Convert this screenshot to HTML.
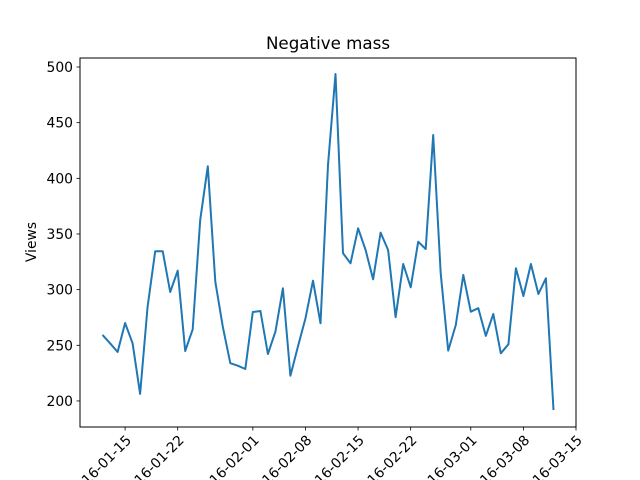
<!DOCTYPE html>
<html><head><meta charset="utf-8"><style>
body{margin:0;background:#fff;}
svg{display:block;font-family:"DejaVu Sans","Liberation Sans",sans-serif;}
</style></head><body>
<svg id="chart" width="640" height="480" xmlns="http://www.w3.org/2000/svg">
<rect width="640" height="480" fill="#fff"/>
<text x="328" y="49" font-size="16.7" text-anchor="middle">Negative mass</text>
<text x="0" y="0" font-size="13.9" text-anchor="middle" transform="translate(36,242) rotate(-90)">Views</text>
<g id="plot"></g>
<rect x="80" y="58" width="496" height="369" fill="none" stroke="#000" stroke-width="1"/>
</svg>
<script>
const startDay = 11; // days after 2016-01-01 (Jan 12)
const views = [259.3,251.8,244,270,251.8,206.3,284.7,334.5,334.5,297.9,317,244.9,264.4,362.6,410.8,307.1,266.7,233.9,231.7,228.7,279.9,280.8,242.2,262.2,301.2,222.7,248.8,274.3,308,269.8,412,493.7,332.7,323.7,355.1,335.6,309.3,351.2,335.6,275.2,323,302.1,343.1,336.5,438.9,314.7,245.2,268.2,313.2,280.2,283.3,258.4,278.1,242.8,250.9,319.2,294.3,323,296.1,310.2,191.9];
const yTicks = [200,250,300,350,400,450,500];
const xTickLabels = ["2016-01-15","2016-01-22","2016-02-01","2016-02-08","2016-02-15","2016-02-22","2016-03-01","2016-03-08","2016-03-15"];
const xTickDays = [14,21,31,38,45,52,60,67,74];

const L=80,R=576,T=58,B=427;
const xMin=8, xMax=74;
const yMin=176.6, yMax=508.1;
const xs=d=>L+(d-xMin)/(xMax-xMin)*(R-L);
const ys=v=>B-(v-yMin)/(yMax-yMin)*(B-T);
const NS="http://www.w3.org/2000/svg";
const g=document.getElementById('plot');
function mk(t,a){const e=document.createElementNS(NS,t);for(const k in a)e.setAttribute(k,a[k]);g.appendChild(e);return e;}
yTicks.forEach(v=>{
  const y=ys(v);
  const t=mk('line',{x1:L-3.5,x2:L,y1:y,y2:y,stroke:'#000','stroke-width':0.8});
  
  
  const l=mk('text',{x:L-7,y:y+5,'font-size':13.9,'text-anchor':'end'});
  
  
  l.textContent=v;
});
xTickDays.forEach((d,i)=>{
  const x=xs(d);
  const t=mk('line',{x1:x,x2:x,y1:B,y2:B+3.5,stroke:'#000','stroke-width':0.8});
  
  
  const l=mk('text',{x:0,y:0,'font-size':13.9,'text-anchor':'end',transform:`translate(${x+7},${B+14}) rotate(-45)`});
  
  
  l.textContent=xTickLabels[i];
});
const pts=views.map((v,i)=>xs(startDay+i).toFixed(1)+','+ys(v).toFixed(1)).join(' ');
const line=mk('polyline',{points:pts,fill:'none',stroke:'#1f77b4','stroke-width':2,'stroke-linejoin':'round'});


</script>
</body></html>
